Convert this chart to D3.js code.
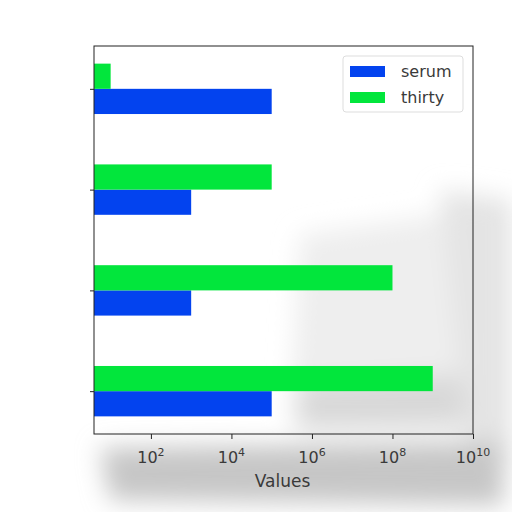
<!DOCTYPE html>
<html>
<head>
<meta charset="utf-8">
<script src="https://cdn.jsdelivr.net/npm/d3@7"></script>
<style>
  body { margin: 0; background: #fff; }
  text { font-family: "DejaVu Sans", sans-serif; fill: #3a3a3a; }
</style>
</head>
<body>
<svg id="chart"></svg>
<script>
// categories listed top to bottom (the chart shows no category labels)
const categories = ["A", "B", "C", "D"];
const seriesNames = ["serum", "thirty"];
const serum = [1e5, 1e3, 1e3, 1e5];
const thirty = [10, 1e5, 1e8, 1e9];
const xTicks = [1e2, 1e4, 1e6, 1e8, 1e10];
const xTickExp = ["2", "4", "6", "8", "10"];

const colors = { serum: "#0343ef", thirty: "#02e63c" };

const width = 512;
const height = 512;
const margin = { top: 46, right: 39, bottom: 78, left: 94 };

const svg = d3.select("#chart")
  .attr("width", width)
  .attr("height", height);

const innerW = width - margin.left - margin.right;
const innerH = height - margin.top - margin.bottom;

// blurred grey smudge in the background
const defs = svg.append("defs");
defs.append("filter").attr("id", "blur")
  .attr("x", "-30%").attr("y", "-30%").attr("width", "160%").attr("height", "160%")
  .append("feGaussianBlur").attr("stdDeviation", 12);

const smudge = svg.append("g").attr("filter", "url(#blur)");
smudge.append("path")
  .attr("d", "M300,235 L440,215 L470,240 L470,430 L290,430 Z")
  .attr("fill", "#eeeeee");
smudge.append("path")
  .attr("d", "M440,190 L512,200 L512,470 L470,470 Z")
  .attr("fill", "#e4e4e4");
smudge.append("path")
  .attr("d", "M300,385 L460,375 L465,425 L300,428 Z")
  .attr("fill", "#d8d8d8");
smudge.append("path")
  .attr("d", "M100,448 L500,442 L505,505 L110,500 Z")
  .attr("fill", "#c6c6c6");

const g = svg.append("g")
  .attr("transform", `translate(${margin.left},${margin.top})`);

const x = d3.scaleLog()
  .domain([3.86, 1e10])
  .range([0, innerW]);

// category centres, matplotlib style: index 0 at the bottom, 5% margins
const yIdx = d3.scaleLinear()
  .domain([3.425, -0.425])
  .range([0, innerH]);
const barH = 0.25;

const rows = categories.map((c, i) => ({
  cat: c,
  pos: categories.length - 1 - i,
  serum: serum[i],
  thirty: thirty[i]
}));

// serum below the centre, thirty above
g.selectAll(".serum")
  .data(rows)
  .enter()
  .append("rect")
  .attr("x", 0)
  .attr("y", d => yIdx(d.pos))
  .attr("width", d => x(d.serum))
  .attr("height", d => yIdx(d.pos - barH) - yIdx(d.pos))
  .attr("fill", colors.serum);

g.selectAll(".thirty")
  .data(rows)
  .enter()
  .append("rect")
  .attr("x", 0)
  .attr("y", d => yIdx(d.pos + barH))
  .attr("width", d => x(d.thirty))
  .attr("height", d => yIdx(d.pos) - yIdx(d.pos + barH))
  .attr("fill", colors.thirty);

// frame
g.append("rect")
  .attr("width", innerW)
  .attr("height", innerH)
  .attr("fill", "none")
  .attr("stroke", "#222")
  .attr("stroke-width", 1);

// x axis
const xAxis = g.append("g")
  .attr("transform", `translate(0,${innerH})`)
  .call(d3.axisBottom(x).tickValues(xTicks).tickFormat("").tickSize(5));
xAxis.select(".domain").remove();
xAxis.selectAll("line").attr("stroke", "#222");

const lbl = g.selectAll(".xlab")
  .data(xTicks)
  .enter()
  .append("text")
  .attr("x", d => x(d))
  .attr("y", innerH + 29)
  .attr("text-anchor", "middle")
  .style("font-size", "16px");
lbl.append("tspan").text("10");
lbl.append("tspan")
  .attr("dy", -7)
  .style("font-size", "11px")
  .text((d, i) => xTickExp[i]);

g.append("text")
  .attr("x", innerW / 2 - 1)
  .attr("y", innerH + 53)
  .attr("text-anchor", "middle")
  .style("font-size", "17px")
  .text("Values");

// y ticks, no labels
g.append("g")
  .call(d3.axisLeft(yIdx).tickValues(rows.map(d => d.pos)).tickFormat("").tickSize(4))
  .call(a => a.select(".domain").remove())
  .selectAll("line").attr("stroke", "#222");

// legend
const legend = g.append("g")
  .attr("transform", `translate(${innerW - 130},10)`);
legend.append("rect")
  .attr("width", 120)
  .attr("height", 56)
  .attr("rx", 3)
  .attr("fill", "#fff")
  .attr("fill-opacity", 0.8)
  .attr("stroke", "#ddd");
seriesNames.forEach((s, i) => {
  legend.append("rect")
    .attr("x", 7)
    .attr("y", 10 + i * 26)
    .attr("width", 35)
    .attr("height", 11)
    .attr("fill", colors[s]);
  legend.append("text")
    .attr("x", 58)
    .attr("y", 21 + i * 26)
    .style("font-size", "16px")
    .text(s);
});
</script>
</body>
</html>
